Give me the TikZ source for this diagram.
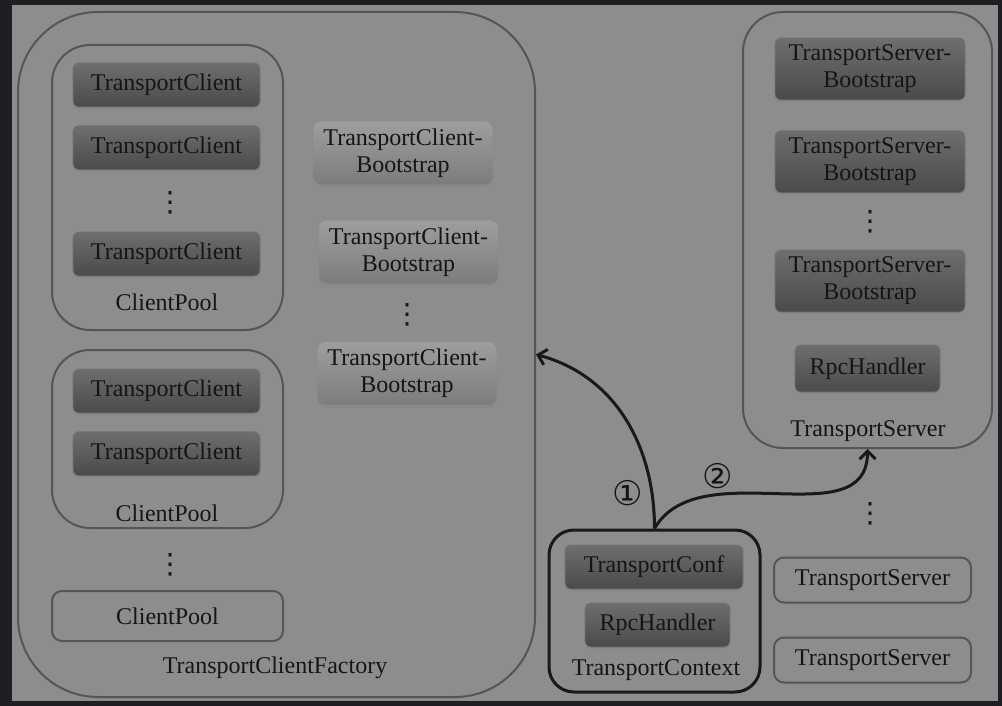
\documentclass[tikz,border=0pt]{standalone}
\usepackage{fontspec}
\setmainfont{Liberation Serif}
\newfontfamily\circfont{DejaVu Sans}
\usetikzlibrary{positioning}
\usetikzlibrary{arrows.meta}
\usetikzlibrary{shadows}

\definecolor{frame}{HTML}{1E1F22}
\definecolor{paper}{HTML}{8D8D8D}
\definecolor{darktop}{HTML}{6E6E6E}
\definecolor{darkbot}{HTML}{4A4A4A}
\definecolor{lighttop}{HTML}{9E9E9E}
\definecolor{lightbot}{HTML}{7C7C7C}
\definecolor{edge}{HTML}{555555}
\definecolor{ink}{HTML}{151515}

\begin{document}
\begin{tikzpicture}[x=0.5pt, y=-0.5pt, node distance = 9pt, align = center,
	every node/.style={text=ink, font=\fontsize{12}{13.5}\selectfont, inner sep=0pt},
	darkbox/.style={rectangle, rounded corners=3pt, draw=black!55, thin, top color=darktop, bottom color=darkbot, drop shadow={shadow xshift=0pt, shadow yshift=-1pt, opacity=0.3}},
	lightbox/.style={rectangle, rounded corners=4pt, draw=black!45, thin, top color=lighttop, bottom color=lightbot, drop shadow={shadow xshift=0pt, shadow yshift=-1pt, opacity=0.25}},
	group/.style={rectangle, draw=edge, line width=1pt},
	tcbox/.style={darkbox, minimum width=93.5pt, minimum height=22pt},
	tcbbox/.style={lightbox, minimum width=90pt, minimum height=32pt},
	tsbbox/.style={darkbox, minimum width=95pt, minimum height=31pt},
	tsbox/.style={group, rounded corners=5pt, minimum width=98.5pt, minimum height=22.5pt},
	link/.style={line width=1.5pt, black!90, -{Straight Barb[length=4pt, width=8pt]}},
	more/.style={font=\circfont\fontsize{14}{14}\selectfont}]
	% background
	\fill[frame] (0,0) rectangle (1002,706);
	\fill[paper] (12,5) rectangle (998,701);
	\useasboundingbox (0,0) rectangle (1002,706);

	% client side
	\node[group, rounded corners=40pt, minimum width=258.5pt, minimum height=342.5pt] (factory) at (276.5,354.5) {};
	\node (factorylbl) at (275,668) {TransportClientFactory};

	\node[group, rounded corners=19pt, minimum width=115.5pt, minimum height=142.5pt] (pool1) at (167.5,187.5) {};
	\node[tcbox] (tc1) at (166.5,85) {TransportClient};
	\node[tcbox] (tc2) [below= of tc1] {TransportClient};
	\node[more] (dots1) at (170,203) {⋮};
	\node[tcbox] (tc3) at (166.5,254) {TransportClient};
	\node (pool1lbl) at (167,302) {ClientPool};

	\node[group, rounded corners=19pt, minimum width=115.5pt, minimum height=89pt] (pool2) at (167.5,439) {};
	\node[tcbox] (tc4) at (166.5,391) {TransportClient};
	\node[tcbox] (tc5) [below= of tc4] {TransportClient};
	\node (pool2lbl) at (167,513) {ClientPool};

	\node[more] (dots2) at (170,565) {⋮};
	\node[group, rounded corners=5pt, minimum width=115.5pt, minimum height=25pt] (pool3) at (167.5,616) {ClientPool};

	\node[tcbbox] (cb1) at (403,153) {TransportClient-\\Bootstrap};
	\node[tcbbox] (cb2) at (408.5,252) {TransportClient-\\Bootstrap};
	\node[more] (dots3) at (407,315) {⋮};
	\node[tcbbox] (cb3) at (407,373.5) {TransportClient-\\Bootstrap};

	% server side
	\node[group, rounded corners=20pt, minimum width=124.5pt, minimum height=218pt] (server) at (867.5,230) {};
	\node[tsbbox] (sb1) at (870,69) {TransportServer-\\Bootstrap};
	\node[tsbbox] (sb2) [below=15pt of sb1] {TransportServer-\\Bootstrap};
	\node[more] (dots4) at (870,222) {⋮};
	\node[tsbbox] (sb3) at (870,281) {TransportServer-\\Bootstrap};
	\node[darkbox, minimum width=72.5pt, minimum height=23.5pt] (srvrpc) at (867.5,368.5) {RpcHandler};
	\node (serverlbl) at (868,431) {TransportServer};

	\node[more] (dots5) at (870,514) {⋮};
	\node[tsbox] (ts1) at (872.5,580) {TransportServer};
	\node[tsbox] (ts2) [below=16.5pt of ts1] {TransportServer};

	% context
	\node[rectangle, draw=black!90, line width=1.5pt, rounded corners=12.5pt, minimum width=105.5pt, minimum height=81pt] (ctx) at (654.5,611) {};
	\node[darkbox, minimum width=89pt, minimum height=22pt] (conf) at (654,567) {TransportConf};
	\node[darkbox, minimum width=72.5pt, minimum height=22pt] (ctxrpc) at (657.5,625) {RpcHandler};
	\node (ctxlbl) at (656,670) {TransportContext};

	\draw[link] (ctx.north) to[out=90, in=-15] (factory.east);
	\draw[link] (ctx.north) to[out=60, in=-90] (server.south);
	\node[font=\circfont\fontsize{17}{17}\selectfont] (one) at (628,493) {①};
	\node[font=\circfont\fontsize{17}{17}\selectfont] (two) at (718,476) {②};
\end{tikzpicture}
\end{document}
